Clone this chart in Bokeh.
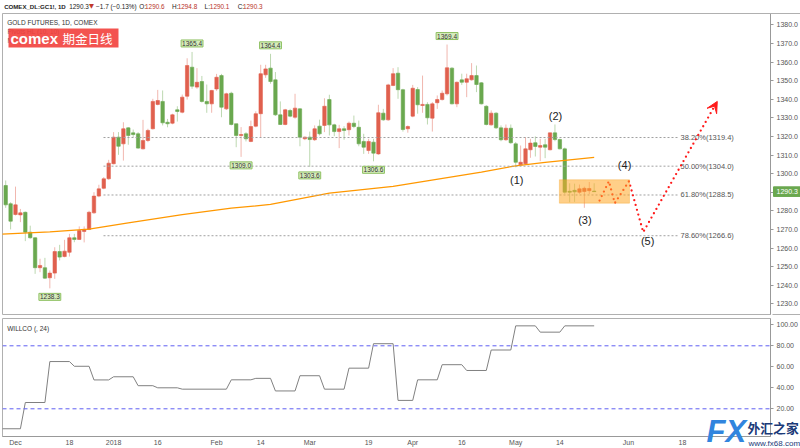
from bokeh.plotting import figure
from bokeh.layouts import column
from bokeh.models import (Range1d, FixedTicker, Label, BoxAnnotation, Span, Arrow, VeeHead,
                          ColumnDataSource, PrintfTickFormatter)
from bokeh.core.properties import value
from bokeh.embed import file_html
from bokeh.resources import INLINE

# ---------------- data ----------------
opens = [1293.6, 1283.8, 1278.0, 1277.8, 1279.2, 1268.5, 1265.5, 1249.4, 1249.4, 1244.0,
         1246.5, 1258.1, 1255.4, 1257.7, 1265.5, 1264.6, 1268.9, 1270.0, 1278.9, 1287.9,
         1292.1, 1297.2, 1305.3, 1319.6, 1316.0, 1324.6, 1321.9, 1321.4, 1313.3, 1317.8,
         1324.1, 1337.2, 1338.8, 1327.6, 1327.1, 1334.3, 1333.0, 1341.6, 1357.2, 1346.5,
         1349.5, 1338.8, 1337.5, 1345.5, 1352.7, 1334.8, 1343.2, 1326.8, 1320.5, 1321.4,
         1317.3, 1325.5, 1332.2, 1353.1, 1356.7, 1350.4, 1331.6, 1326.4, 1333.9, 1330.3,
         1334.8, 1318.7, 1319.6, 1318.2, 1325.5, 1325.9, 1339.8, 1326.2, 1322.6, 1324.1,
         1323.6, 1327.1, 1324.9, 1317.3, 1312.4, 1316.9, 1310.6, 1332.5, 1328.9, 1347.4,
         1354.0, 1345.1, 1324.1, 1330.9, 1345.2, 1336.6, 1337.2, 1329.8, 1338.1, 1339.8,
         1342.9, 1356.7, 1337.5, 1350.4, 1349.1, 1350.4, 1352.7, 1348.8, 1336.2, 1326.2,
         1332.5, 1324.6, 1318.2, 1324.4, 1316.0, 1304.7, 1305.3, 1312.8, 1316.6, 1314.2,
         1315.5, 1312.8, 1321.9, 1318.3, 1313.3, 1290.5, 1291.0, 1290.0, 1290.4, 1290.8,
         1290.6]
highs = [1296.3, 1284.6, 1293.0, 1281.0, 1279.6, 1272.0, 1265.8, 1254.2, 1254.7, 1247.9,
         1260.4, 1261.7, 1264.4, 1267.6, 1267.6, 1271.6, 1271.6, 1280.0, 1290.0, 1294.0,
         1298.1, 1307.4, 1322.3, 1322.3, 1327.6, 1325.0, 1323.7, 1322.3, 1328.9, 1324.1,
         1340.2, 1345.0, 1344.7, 1329.4, 1332.2, 1336.2, 1342.5, 1362.0, 1365.4, 1356.7,
         1352.5, 1347.9, 1345.0, 1353.6, 1353.6, 1343.5, 1344.0, 1326.8, 1325.0, 1322.3,
         1328.5, 1333.5, 1358.5, 1358.5, 1364.4, 1354.6, 1338.8, 1334.8, 1334.8, 1342.9,
         1335.2, 1320.0, 1322.6, 1325.9, 1329.0, 1340.5, 1342.4, 1326.8, 1326.2, 1325.5,
         1328.0, 1331.2, 1328.5, 1321.4, 1318.7, 1318.7, 1337.0, 1334.8, 1348.3, 1356.7,
         1357.2, 1345.6, 1325.9, 1347.7, 1346.5, 1352.7, 1338.4, 1338.4, 1342.0, 1344.7,
         1369.4, 1357.2, 1349.5, 1353.7, 1353.7, 1359.4, 1358.1, 1349.2, 1336.8, 1334.0,
         1333.0, 1325.9, 1326.4, 1326.4, 1317.0, 1315.1, 1319.6, 1318.7, 1320.0, 1318.7,
         1318.7, 1322.0, 1326.4, 1318.8, 1314.0, 1294.8, 1294.6, 1294.1, 1293.0, 1295.5,
         1294.8]
lows = [1281.6, 1270.0, 1277.5, 1273.9, 1263.7, 1265.0, 1246.1, 1247.0, 1243.4, 1238.3,
        1243.4, 1253.3, 1255.0, 1255.4, 1263.1, 1264.3, 1263.0, 1269.6, 1278.4, 1287.3,
        1291.6, 1296.7, 1305.0, 1310.1, 1307.0, 1315.5, 1319.6, 1313.3, 1313.0, 1316.9,
        1323.7, 1336.7, 1325.9, 1324.9, 1326.5, 1328.0, 1332.4, 1339.8, 1345.6, 1345.6,
        1338.2, 1332.7, 1332.7, 1344.5, 1330.3, 1334.2, 1325.9, 1314.2, 1309.0, 1317.3,
        1316.9, 1324.9, 1319.6, 1351.5, 1348.3, 1331.0, 1326.2, 1326.0, 1330.3, 1329.5,
        1314.7, 1318.0, 1303.6, 1317.6, 1320.5, 1322.3, 1320.5, 1320.1, 1313.7, 1318.2,
        1320.5, 1324.4, 1314.7, 1310.6, 1310.6, 1306.6, 1310.1, 1328.4, 1328.4, 1347.0,
        1340.2, 1322.6, 1322.0, 1330.3, 1332.2, 1332.7, 1326.4, 1322.6, 1334.8, 1339.3,
        1342.0, 1337.2, 1335.7, 1347.7, 1341.1, 1350.0, 1343.8, 1337.2, 1325.9, 1325.8,
        1324.0, 1317.4, 1317.6, 1316.0, 1303.4, 1304.5, 1304.7, 1308.5, 1309.2, 1306.7,
        1308.3, 1312.5, 1317.4, 1313.0, 1289.1, 1284.6, 1284.8, 1289.1, 1281.6, 1289.0,
        1290.1]
closes = [1283.2, 1274.4, 1283.2, 1278.9, 1268.5, 1265.5, 1249.4, 1250.6, 1243.8, 1246.5,
          1258.1, 1255.1, 1258.3, 1265.5, 1264.6, 1269.4, 1270.0, 1279.2, 1287.9, 1291.8,
          1297.2, 1305.6, 1319.6, 1314.7, 1324.1, 1320.5, 1321.0, 1313.7, 1317.8, 1323.2,
          1338.8, 1339.3, 1327.3, 1326.8, 1331.6, 1333.4, 1341.1, 1358.1, 1347.0, 1349.1,
          1338.8, 1337.5, 1344.7, 1351.8, 1335.7, 1342.9, 1326.4, 1320.5, 1321.0, 1318.7,
          1325.3, 1332.2, 1353.7, 1356.3, 1349.5, 1331.6, 1326.4, 1334.3, 1330.9, 1335.2,
          1319.6, 1319.6, 1318.3, 1324.1, 1321.4, 1336.2, 1326.2, 1322.6, 1324.1, 1323.2,
          1327.1, 1325.3, 1316.0, 1314.2, 1317.3, 1311.0, 1332.7, 1328.9, 1347.7, 1353.7,
          1345.1, 1323.7, 1325.3, 1345.9, 1337.0, 1337.2, 1330.0, 1337.5, 1339.8, 1343.2,
          1356.9, 1337.5, 1349.1, 1349.1, 1351.0, 1352.7, 1347.9, 1337.5, 1326.4, 1332.5,
          1324.6, 1318.2, 1324.4, 1316.6, 1306.1, 1306.1, 1313.3, 1316.4, 1314.6, 1315.1,
          1314.2, 1321.9, 1318.3, 1313.3, 1290.0, 1290.0, 1290.2, 1291.8, 1292.1, 1292.0,
          1290.3]

# 200-day moving average, read at a few bar positions
ma_idx = [-1, 9, 17, 25, 36, 46, 54, 66, 79, 97, 104, 110, 120]
ma_val = [1267.4, 1268.7, 1270.1, 1273.5, 1278.0, 1281.4, 1283.4, 1289.5, 1293.1, 1300.8, 1304.2, 1306.0, 1308.7]

# Fibonacci retracement levels
fib_pct = ["38.20%", "50.00%", "61.80%", "78.60%"]
fib_price = [1319.4, 1304.0, 1288.5, 1266.6]

# pivot highs / lows (bar index)
pivot_hi_idx = [38, 54, 90]
pivot_lo_idx = [9, 48, 62, 75]

# WILLCO (24) step line
willco_idx = [-1, 3, 4, 8, 9, 13, 14, 17, 18, 21, 22, 26, 27, 30, 31, 35, 36, 45, 46, 50,
              51, 54, 55, 59, 60, 64, 65, 69, 70, 74, 75, 79, 80, 83, 84, 88, 89, 93, 94, 98,
              99, 103, 104, 108, 109, 113, 114, 120]
willco_val = [1, 1, 26, 26, 65, 65, 60.5, 60.5, 47.5, 47.5, 50.5, 50.5, 42, 42, 40, 40, 38.7, 38.7, 47.6, 47.6,
              49, 49, 37, 37, 51.5, 51.5, 38.7, 38.7, 58.7, 58.7, 82, 82, 28, 28, 47.6, 47.6, 62, 62, 56.5, 56.5,
              76, 76, 99, 99, 93, 93, 99, 99]

# projected wave path (bar index, price)
proj_idx = [121.1, 123.0, 124.2, 127.1, 130.0, 145.1]
proj_price = [1285.5, 1295.9, 1284.1, 1295.9, 1268.5, 1338.8]

# consolidation zone
zone_idx = [112.9, 127.2]
zone_price = [1284.1, 1296.7]

# wave labels
wave_txt = ["(1)", "(2)", "(3)", "(4)", "(5)"]
wave_idx = [104.2, 112.1, 118.1, 126.2, 130.9]
wave_price = [1296.7, 1330.7, 1275.3, 1304.4, 1263.5]

price_ticks = [1230, 1240, 1250, 1260, 1270, 1280, 1290, 1300, 1310, 1320, 1330, 1340, 1350, 1360, 1370, 1380]
willco_ticks = [20, 40, 60, 80, 100]
date_tick_idx = [2, 13, 22, 31, 43, 52, 62, 74, 83, 93, 104, 113, 127, 138]
date_tick_lbl = ["Dec", "18", "2018", "16", "Feb", "14", "Mar", "19", "Apr", "16", "May", "14", "Jun", "18"]

# ---------------- layout helpers (pixel <-> data) ----------------
X0, DX = 5.2, 4.904
def px2i(x):
    return (x - X0) / DX
def px2p(y):
    return 1380 - (y - 24.3) / 1.86
def p2px(v):
    return 24.3 + (1380 - v) * 1.86
def px2w(y):
    return 100 - (y - 324.3) / 1.05

FONT = "Liberation Sans"
RED = "#e0604e"
GREEN = "#6aa84f"
AXIS_C = "#555555"

# ---------------- title strip ----------------
p0 = figure(width=800, height=13, x_range=Range1d(0, 800), y_range=Range1d(13, 0),
            output_backend="svg", toolbar_location=None, x_axis_location=None, y_axis_location=None,
            min_border=0, outline_line_color=None)
p0.xgrid.grid_line_color = None
p0.ygrid.grid_line_color = None
last, prev = closes[-1], closes[-2]
chg = last - prev
title_parts = [
    (1.7, "COMEX_DL:GC1!, 1D", "#222222", "bold", "6.1px"),
    (69.5, f"{last:.1f}", "#222222", "normal", "6.4px"),
    (90, "▼", "#c0392b", "normal", "6.4px"),
    (97.5, f"−{abs(chg):.1f} (−{abs(chg) / prev * 100:.2f}%)", "#222222", "normal", "6.4px"),
    (142.5, "O:", "#222222", "normal", "6.4px"), (148.5, f"{opens[-1]:.1f}", "#b83228", "normal", "6.4px"),
    (176.5, "H:", "#222222", "normal", "6.4px"), (182.5, f"{highs[-1]:.1f}", "#b83228", "normal", "6.4px"),
    (210.5, "L:", "#222222", "normal", "6.4px"), (216, f"{lows[-1]:.1f}", "#b83228", "normal", "6.4px"),
    (245, "C:", "#222222", "normal", "6.4px"), (250.5, f"{closes[-1]:.1f}", "#b83228", "normal", "6.4px"),
]
for xp, t, c, st, fs in title_parts:
    p0.text(x=[xp], y=[5.5], text=[t], text_baseline="middle", text_font_size=fs,
            text_color=c, text_font_style=st,
            text_font=value("DejaVu Sans" if t == "▼" else FONT))

# ---------------- main panel ----------------
xr = Range1d(px2i(2), px2i(770))

p = figure(width=800, height=303, x_range=xr, y_range=Range1d(px2p(314), px2p(13)),
           output_backend="svg", toolbar_location=None, x_axis_location=None,
           y_axis_location="right", min_border_left=2, min_border_right=30,
           min_border_top=0, min_border_bottom=2)
p.xgrid.grid_line_color = None
p.ygrid.grid_line_color = None
p.outline_line_color = "#b0b0b0"
p.background_fill_color = "white"
p.border_fill_color = "white"

ya = p.yaxis[0]
ya.ticker = FixedTicker(ticks=price_ticks)
ya.formatter = PrintfTickFormatter(format="%.1f")
ya.axis_line_color = "#999999"
ya.major_tick_line_color = "#999999"
ya.major_tick_out = 3
ya.major_tick_in = 0
ya.minor_tick_line_color = None
ya.major_label_text_font_size = "7px"
ya.major_label_text_color = AXIS_C
ya.major_label_text_font = FONT
ya.major_label_standoff = 3

# candles
idx = list(range(len(opens)))
cols = [RED if c >= o else GREEN for o, c in zip(opens, closes)]
src = ColumnDataSource(dict(x=idx, h=highs, l=lows,
                            top=[max(o, c) for o, c in zip(opens, closes)],
                            bot=[min(o, c) for o, c in zip(opens, closes)],
                            col=cols))
p.segment(x0="x", y0="l", x1="x", y1="h", line_color="col", line_alpha=0.45, line_width=1, source=src)
p.vbar(x="x", width=0.7, top="top", bottom="bot", fill_color="col", line_color="col",
       line_width=0.6, source=src)

# MA line
p.line(ma_idx, ma_val, line_color="#ff9800", line_width=1.3)

# fib levels
fib_start, fib_end = px2i(103), px2i(677)
p.segment(x0=[fib_start] * 4, x1=[fib_end] * 4, y0=fib_price, y1=fib_price,
          line_color="#a0a0a0", line_dash="2 2", line_width=1)
p.text(x=[px2i(680)] * 4, y=fib_price, text=[f"{a}({b:.1f})" for a, b in zip(fib_pct, fib_price)],
       text_font=value(FONT), text_font_size="7.5px", text_color="#555555",
       text_align="left", text_baseline="middle")

# zone
p.add_layout(BoxAnnotation(left=zone_idx[0], right=zone_idx[1], bottom=zone_price[0], top=zone_price[1],
                           fill_color="#ffa726", fill_alpha=0.55, line_color="#f39c12", line_width=1))

# projected path
p.line(proj_idx, proj_price, line_color="#ff1a1a", line_width=2.3, line_dash="0 5", line_cap="round")
p.add_layout(Arrow(end=VeeHead(size=11, fill_color="#ff1a1a", line_color="#ff1a1a"),
                   x_start=proj_idx[-2], y_start=proj_price[-2], x_end=proj_idx[-1], y_end=proj_price[-1],
                   line_alpha=0))

# wave labels
p.text(x=wave_idx, y=wave_price, text=wave_txt, text_font=value(FONT), text_font_size="11px",
       text_color="#222222", text_align="center", text_baseline="middle")

# pivot labels
for i in pivot_hi_idx:
    p.add_layout(Label(x=i, y=highs[i], y_offset=5, text=f"{highs[i]:.1f}", text_align="center",
                       text_baseline="bottom", text_font_size="6.5px", text_color="#333333", text_font=FONT,
                       background_fill_color="#d6ecbc", border_line_color="#8fc163", padding=1))
for i in pivot_lo_idx:
    p.add_layout(Label(x=i, y=lows[i], y_offset=-5, text=f"{lows[i]:.1f}", text_align="center",
                       text_baseline="top", text_font_size="6.5px", text_color="#333333", text_font=FONT,
                       background_fill_color="#d6ecbc", border_line_color="#8fc163", padding=1))

# legend texts top-left
p.add_layout(Label(x=px2i(6.7), y=px2p(21.7), text="GOLD FUTURES, 1D, COMEX", text_baseline="middle",
                   text_font_size="6.5px", text_color="#333333", text_font=FONT))
p.add_layout(Label(x=px2i(7), y=px2p(31), text="Pivots HL (10, 10)", text_baseline="middle",
                   text_font_size="6.5px", text_color="#555555", text_font=FONT))
p.add_layout(Label(x=px2i(7), y=px2p(40), text="MA (200, close)", text_baseline="middle",
                   text_font_size="6.5px", text_color="#555555", text_font=FONT))
p.add_layout(BoxAnnotation(left=px2i(8), right=px2i(118), top=px2p(28), bottom=px2p(47),
                           fill_color="#f2403c", fill_alpha=0.9, line_alpha=0))
p.add_layout(Label(x=px2i(10), y=px2p(38), text="comex", text_baseline="middle",
                   text_font_size="15px", text_font_style="bold", text_color="white", text_font=FONT))
p.add_layout(Label(x=px2i(62), y=px2p(37.5), text="期金日线", text_baseline="middle",
                   text_font_size="12.5px", text_color="white", text_font="Noto Sans CJK SC"))

# ---------------- lower panel ----------------
p2 = figure(width=800, height=132, x_range=xr, y_range=Range1d(px2w(436), px2w(318)),
            output_backend="svg", toolbar_location=None, y_axis_location="right",
            min_border_left=2, min_border_right=30, min_border_top=2, min_border_bottom=12)
p2.xgrid.grid_line_color = None
p2.ygrid.grid_line_color = None
p2.outline_line_color = "#b0b0b0"
p2.border_fill_color = "white"

p2.line(willco_idx, willco_val, line_color="#808080", line_width=1)
for lv in (80, 20):
    p2.add_layout(Span(location=lv, dimension="width", line_color="#5e5ef2", line_dash="4 3", line_width=1))

y2 = p2.yaxis[0]
y2.ticker = FixedTicker(ticks=willco_ticks)
y2.formatter = PrintfTickFormatter(format="%.2f")
y2.axis_line_color = "#999999"
y2.major_tick_line_color = "#999999"
y2.major_tick_out = 3
y2.major_tick_in = 0
y2.minor_tick_line_color = None
y2.major_label_text_font_size = "7px"
y2.major_label_text_color = AXIS_C
y2.major_label_text_font = FONT
y2.major_label_standoff = 3

x2 = p2.xaxis[0]
x2.ticker = FixedTicker(ticks=date_tick_idx)
x2.major_label_overrides = {i: l for i, l in zip(date_tick_idx, date_tick_lbl)}
x2.axis_line_color = "#999999"
x2.major_tick_out = 0
x2.major_tick_in = 0
x2.minor_tick_line_color = None
x2.major_label_text_font_size = "7px"
x2.major_label_text_color = AXIS_C
x2.major_label_text_font = FONT
x2.major_label_standoff = 2

p2.add_layout(Label(x=px2i(6.7), y=px2w(328.3), text="WILLCO (, 24)", text_baseline="middle",
                    text_font_size="6.5px", text_color="#333333", text_font=FONT))

# ---------------- overlay: price tag + watermark (pixel space) ----------------
ov = figure(frame_width=800, frame_height=448, x_range=Range1d(0, 800), y_range=Range1d(448, 0),
            output_backend="svg", toolbar_location=None, x_axis_location=None, y_axis_location=None,
            min_border=0, outline_line_color=None,
            styles={"position": "absolute", "left": "0px", "top": "0px", "width": "800px",
                    "height": "448px", "pointer-events": "none"})
ov.background_fill_alpha = 0
ov.border_fill_alpha = 0
ov.xgrid.grid_line_color = None
ov.ygrid.grid_line_color = None
# chart border lines that continue across the price-axis column
ov.segment(x0=[0, 770], y0=[13, 314], x1=[800, 800], y1=[13, 314], line_color="#b0b0b0", line_width=1)
tag_y = p2px(closes[-1])
ov.quad(left=[771], right=[799], top=[tag_y - 4.8], bottom=[tag_y + 4.8], fill_color=GREEN, line_color=GREEN)
ov.text(x=[774], y=[tag_y], text=[f"{closes[-1]:.1f}"], text_baseline="middle", text_font_size="7px",
        text_color="white", text_font=value(FONT))
ov.text(x=[704], y=[431], text=["FX"], text_baseline="middle", text_font_size="31px",
        text_font_style="bold italic", text_color="#3185de", text_font=value(FONT))
ov.text(x=[745], y=[427], text=["外汇之家"], text_baseline="middle", text_font_size="12.8px",
        text_font_style="bold", text_color="#1b3a78", text_font=value("Noto Sans CJK SC"))
ov.text(x=[746], y=[442.5], text=["www.fx68.com"], text_baseline="middle", text_font_size="8px",
        text_color="#1b3a78", text_font=value(FONT))

layout = column(p0, p, p2, ov)
open("out.html", "w").write(file_html(layout, INLINE))
